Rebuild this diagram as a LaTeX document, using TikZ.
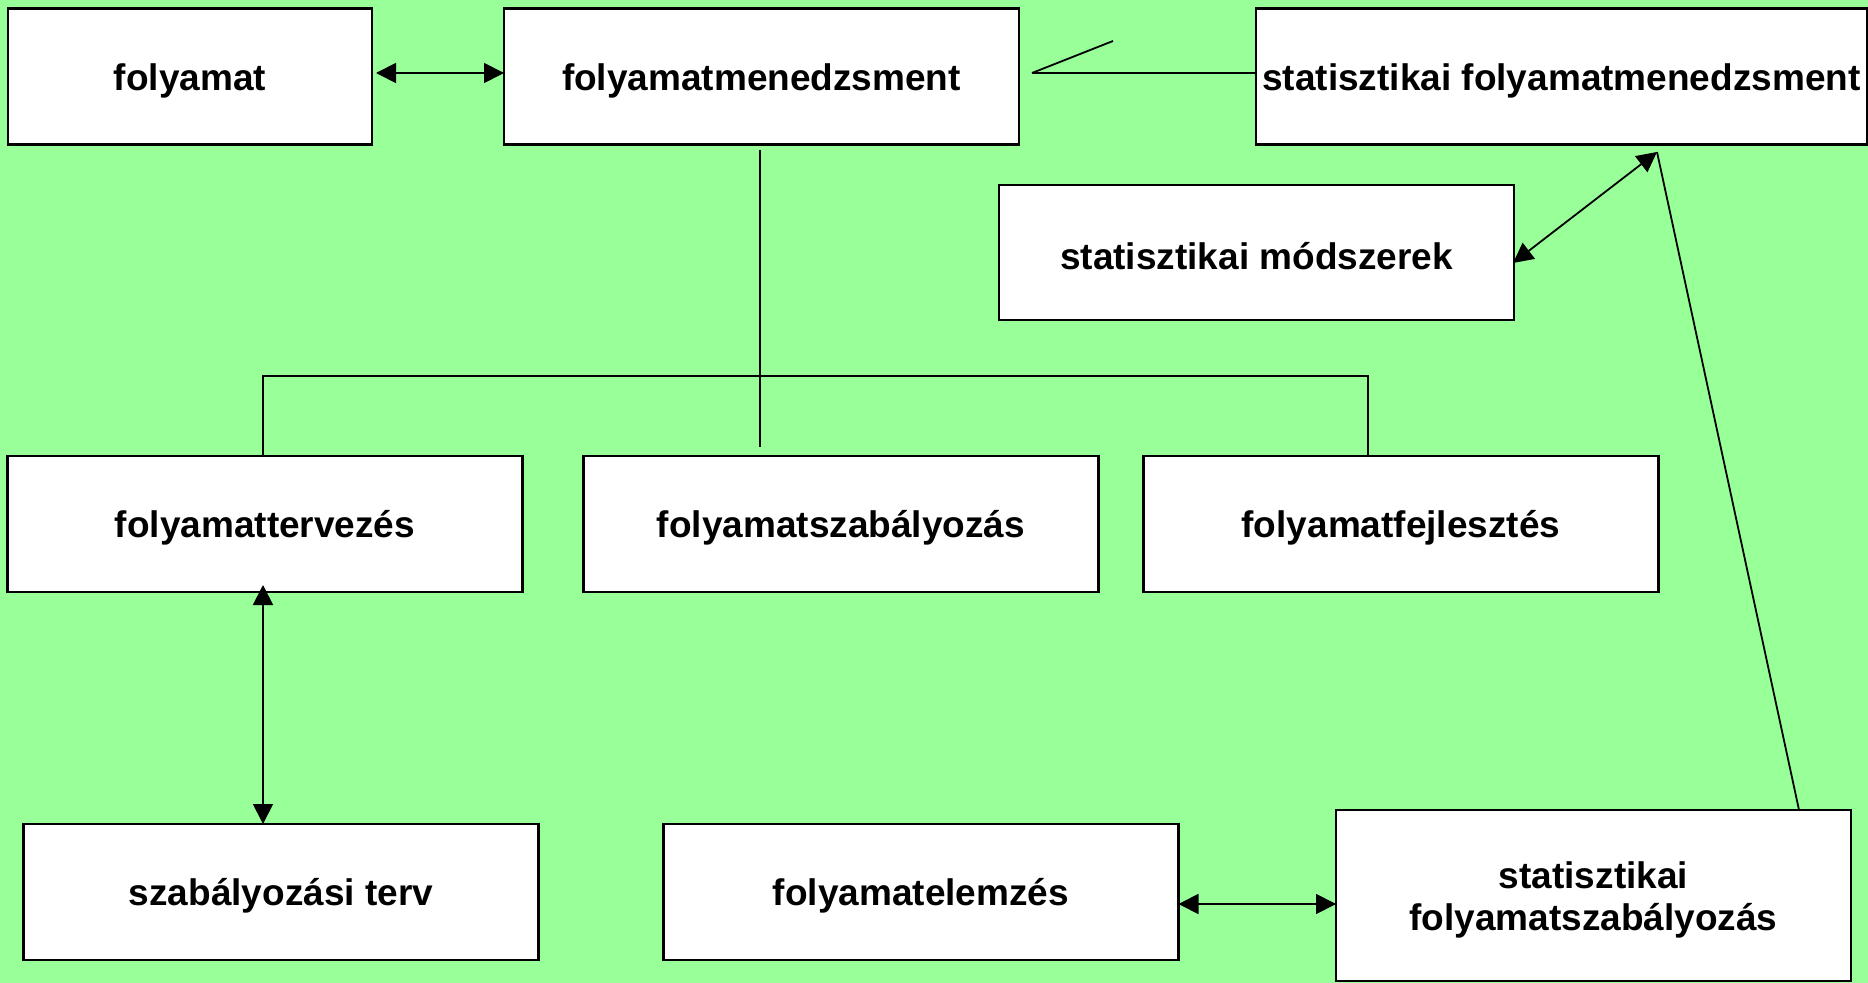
\documentclass[tikz,border=0pt]{standalone}
\usepackage{fontspec}
\setmainfont{Liberation Sans}
\usetikzlibrary{arrows.meta}
\definecolor{bggreen}{RGB}{153,255,153}
\begin{document}
\begin{tikzpicture}[x=0.5pt,y=-0.5pt,
  txt/.style={inner sep=0pt,yshift=-2pt,align=center,
    font=\fontsize{18.5}{21}\selectfont\bfseries},
  box/.style={draw=black,fill=white,line width=1.1pt,inner sep=0pt,outer sep=0pt,
    minimum width=257.5pt,minimum height=68pt},
  link/.style={line width=0.9pt,draw=black},
  dbl/.style={link,{Triangle[length=10pt,width=10pt]}-{Triangle[length=10pt,width=10pt]}}]
% page and background
\fill[bggreen] (0,0) rectangle (1868,983);
\useasboundingbox (0,0) rectangle (1868,983);

% boxes
\node[box,minimum width=182pt,label={[txt]center:folyamat}] (proc) at (190,76.5) {};
\node[box,label={[txt]center:folyamatmenedzsment}] (pm) at (761.5,76.5) {};
\node[box,minimum width=305.5pt,label={[txt]center:statisztikai folyamatmenedzsment}] (spm) at (1561.5,76.5) {};
\node[box,minimum height=67.5pt,label={[txt]center:statisztikai módszerek}] (meth) at (1256.5,252.5) {};
\node[box,label={[txt]center:folyamattervezés}] (plan) at (265,524) {};
\node[box,label={[txt]center:folyamatszabályozás}] (ctrl) at (841,524) {};
\node[box,label={[txt]center:folyamatfejlesztés}] (impr) at (1401,524) {};
\node[box,label={[txt]center:szabályozási terv}] (cplan) at (281,892) {};
\node[box,label={[txt]center:folyamatelemzés}] (anal) at (921,892) {};
\node[box,minimum height=85.5pt,label={[txt]center:{statisztikai\\folyamatszabályozás}}] (spc) at (1593.5,895.5) {};

% helper points
\coordinate (kink) at (1032,73);
\coordinate (kinkend) at (1113,41);
\coordinate (busL) at (263,376);
\coordinate (busR) at (1368,376);
\coordinate (stem) at (760,447);
\coordinate (hub) at (1657,152);
\coordinate (methtip) at (1513,263);

% connectors
\draw[dbl] ([xshift=2pt]proc.east |- 0,73) -- (pm.west |- 0,73);
\draw[link] (kink) -- (spm.west |- kink);
\draw[link] (kink) -- (kinkend);
\draw[link] ([yshift=-3pt]pm.south -| stem) -- (stem);
\draw[link] (plan.north -| busL) -- (busL) -- (busR) -- (busR |- impr.north);
\draw[dbl] (methtip) -- (hub);
\draw[link] (spc.north -| 1799,0) -- (hub);
\draw[dbl] ([yshift=3.5pt]plan.south -| busL) -- (cplan.north -| busL);
\draw[dbl] (anal.east |- 0,904) -- (spc.west |- 0,904);
\end{tikzpicture}
\end{document}
